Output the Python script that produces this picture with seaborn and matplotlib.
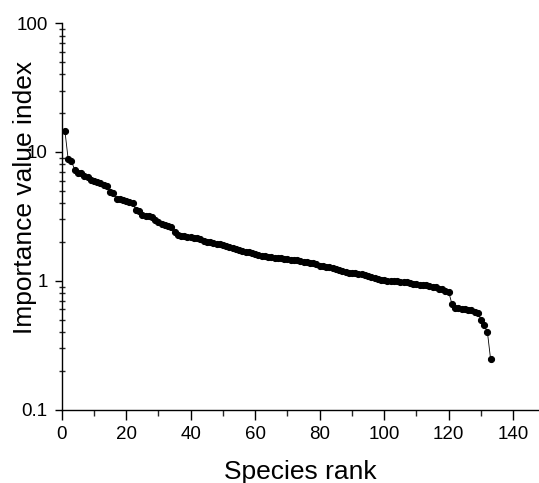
import numpy as np
import pandas as pd
import matplotlib
matplotlib.use('Agg')
import matplotlib.pyplot as plt
from matplotlib.ticker import LogLocator, FixedLocator, FixedFormatter, MultipleLocator, NullFormatter
import seaborn as sns

# ------------------------------------------------------------
# data : importance value index by species rank
# ------------------------------------------------------------
ivi = [
    14.5, 8.8, 8.5, 7.3, 6.9, 6.9, 6.5, 6.4, 6.1, 5.95,
    5.85, 5.7, 5.55, 5.45, 4.9, 4.8, 4.35, 4.3, 4.22, 4.15,
    4.1, 4.0, 3.55, 3.5, 3.22, 3.18, 3.18, 3.1, 2.95, 2.87,
    2.78, 2.72, 2.66, 2.6, 2.4, 2.25, 2.23, 2.21, 2.19, 2.18,
    2.16, 2.14, 2.12, 2.05, 2.01, 1.99, 1.96, 1.93, 1.92, 1.88,
    1.86, 1.84, 1.80, 1.76, 1.73, 1.70, 1.68, 1.66, 1.63, 1.61,
    1.59, 1.57, 1.55, 1.54, 1.52, 1.51, 1.50, 1.49, 1.48, 1.47,
    1.46, 1.45, 1.44, 1.42, 1.40, 1.39, 1.38, 1.37, 1.34, 1.31,
    1.30, 1.28, 1.27, 1.25, 1.23, 1.21, 1.19, 1.17, 1.15, 1.14,
    1.14, 1.13, 1.13, 1.11, 1.09, 1.07, 1.05, 1.03, 1.02, 1.01,
    1.00, 1.00, 0.99, 0.99, 0.98, 0.98, 0.97, 0.96, 0.95, 0.94,
    0.93, 0.93, 0.92, 0.91, 0.90, 0.89, 0.87, 0.86, 0.84, 0.82,
    0.66, 0.62, 0.61, 0.60, 0.60, 0.59, 0.59, 0.575, 0.56, 0.50,
    0.45, 0.40, 0.245,
]
rank = list(range(1, len(ivi) + 1))

y_ticks = [0.1, 1, 10, 100]
y_tick_labels = ['0.1', '1', '10', '100']

df = pd.DataFrame({'rank': rank, 'ivi': ivi})

# ------------------------------------------------------------
# plot
# ------------------------------------------------------------
sns.set_style('ticks')
plt.rcParams['font.family'] = ['Liberation Sans', 'DejaVu Sans']

fig = plt.figure(figsize=(5.39, 4.83), dpi=100)
ax = fig.add_axes([0.1145, 0.152, 0.8855, 0.80])

sns.lineplot(data=df, x='rank', y='ivi', ax=ax, color='black',
             linewidth=0.6, marker='o', markersize=4.4,
             markeredgecolor='black', markerfacecolor='black')

ax.set_yscale('log')
ax.set_ylim(0.1, 100)
ax.set_xlim(0, 148)

ax.yaxis.set_major_locator(FixedLocator(y_ticks))
ax.yaxis.set_major_formatter(FixedFormatter(y_tick_labels))
ax.yaxis.set_minor_locator(LogLocator(base=10, subs=np.arange(2, 10)))
ax.yaxis.set_minor_formatter(NullFormatter())

ax.xaxis.set_major_locator(MultipleLocator(20))
ax.xaxis.set_minor_locator(MultipleLocator(10))

sns.despine(ax=ax)
for s in ['left', 'bottom']:
    ax.spines[s].set_linewidth(1.0)
    ax.spines[s].set_color('black')

ax.tick_params(axis='both', which='major', labelsize=13.5, colors='black',
               width=1.0)
ax.tick_params(axis='x', which='major', direction='out', length=7, pad=5)
ax.tick_params(axis='x', which='minor', direction='out', length=4, width=1.0)
ax.tick_params(axis='y', which='major', direction='out', length=5, pad=5)
ax.tick_params(axis='y', which='minor', direction='inout', length=4, width=1.0)

ax.set_xlabel('Species rank', fontsize=19, color='black')
ax.set_ylabel('Importance value index', fontsize=19, color='black')
ax.xaxis.set_label_coords(0.5, -0.13)
ax.yaxis.set_label_coords(-0.052, 0.55)

plt.savefig('out.png', dpi=100)
